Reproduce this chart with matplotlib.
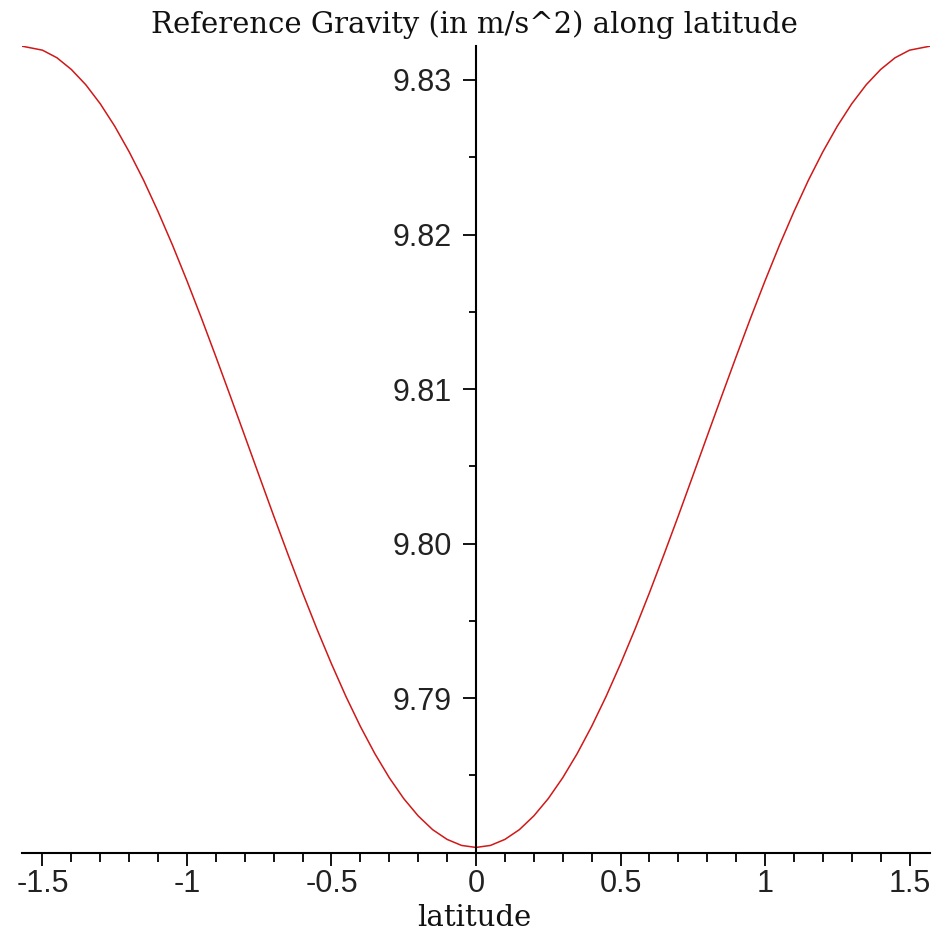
import matplotlib.pyplot as plt
from matplotlib.ticker import MultipleLocator, FixedLocator, FixedFormatter

# latitude (rad) from the equator to the pole, gravity (m/s^2) at each point
lat_half = [0.0, 0.05, 0.10, 0.15, 0.20, 0.25, 0.30, 0.35, 0.40, 0.45,
            0.50, 0.55, 0.60, 0.65, 0.70, 0.75, 0.80, 0.85, 0.90, 0.95,
            1.00, 1.05, 1.10, 1.15, 1.20, 1.25, 1.30, 1.35, 1.40, 1.45,
            1.50, 1.5708]
g_half = [9.78033, 9.78046, 9.78085, 9.78148, 9.78237, 9.78349, 9.78484,
          9.78640, 9.78816, 9.79010, 9.79221, 9.79445, 9.79681, 9.79927,
          9.80179, 9.80437, 9.80696, 9.80954, 9.81209, 9.81459, 9.81700,
          9.81931, 9.82148, 9.82351, 9.82535, 9.82701, 9.82846, 9.82969,
          9.83068, 9.83144, 9.83193, 9.83219]

# the curve is symmetric about the equator
lat = [-x for x in reversed(lat_half[1:])] + lat_half
g = list(reversed(g_half[1:])) + g_half

xticks = [-1.5, -1, -0.5, 0, 0.5, 1, 1.5]
xlabels = ["-1.5", "-1", "-0.5", "0", "0.5", "1", "1.5"]
yticks = [9.79, 9.80, 9.81, 9.82, 9.83]
ylabels = ["9.79", "9.80", "9.81", "9.82", "9.83"]

fig = plt.figure(figsize=(9.34, 9.41), dpi=100)
W, H = 934, 941
ax = fig.add_axes([22 / W, (H - 853) / H, (930 - 22) / W, (853 - 46) / H])

ax.plot(lat, g, color="#d01818", lw=1.1)

ax.set_xlim(-1.5708, 1.5708)
ax.set_ylim(9.77997, 9.83220)

for s in ["top", "right"]:
    ax.spines[s].set_visible(False)
ax.spines["left"].set_position(("data", 0))
ax.spines["left"].set_linewidth(1.5)
ax.spines["bottom"].set_linewidth(1.5)

tick_font = dict(family="Liberation Sans", size=22, color="#222222")

ax.xaxis.set_major_locator(FixedLocator(xticks))
ax.xaxis.set_major_formatter(FixedFormatter(xlabels))
ax.xaxis.set_minor_locator(MultipleLocator(0.1))
ax.tick_params(axis="x", which="major", direction="out", length=9.5, width=1.3, pad=2)
ax.tick_params(axis="x", which="minor", direction="out", length=6.5, width=1.3)

ax.yaxis.set_major_locator(FixedLocator(yticks))
ax.yaxis.set_major_formatter(FixedFormatter(ylabels))
ax.yaxis.set_minor_locator(FixedLocator([9.785, 9.795, 9.805, 9.815, 9.825]))
ax.tick_params(axis="y", which="major", direction="out", length=9.5, width=1.3, pad=8)
ax.tick_params(axis="y", which="minor", direction="out", length=5, width=1.3)

for lbl in ax.get_xticklabels() + ax.get_yticklabels():
    lbl.set_fontfamily(tick_font["family"])
    lbl.set_fontsize(tick_font["size"])
    lbl.set_color(tick_font["color"])

fig.text(474 / W, 1 - 25 / H, "Reference Gravity (in m/s^2) along latitude",
         ha="center", va="center", family="DejaVu Serif", size=21, color="#111111")
fig.text(474 / W, 1 - 918 / H, "latitude",
         ha="center", va="center", family="DejaVu Serif", size=21, color="#111111")

fig.savefig("out.png", dpi=100)
